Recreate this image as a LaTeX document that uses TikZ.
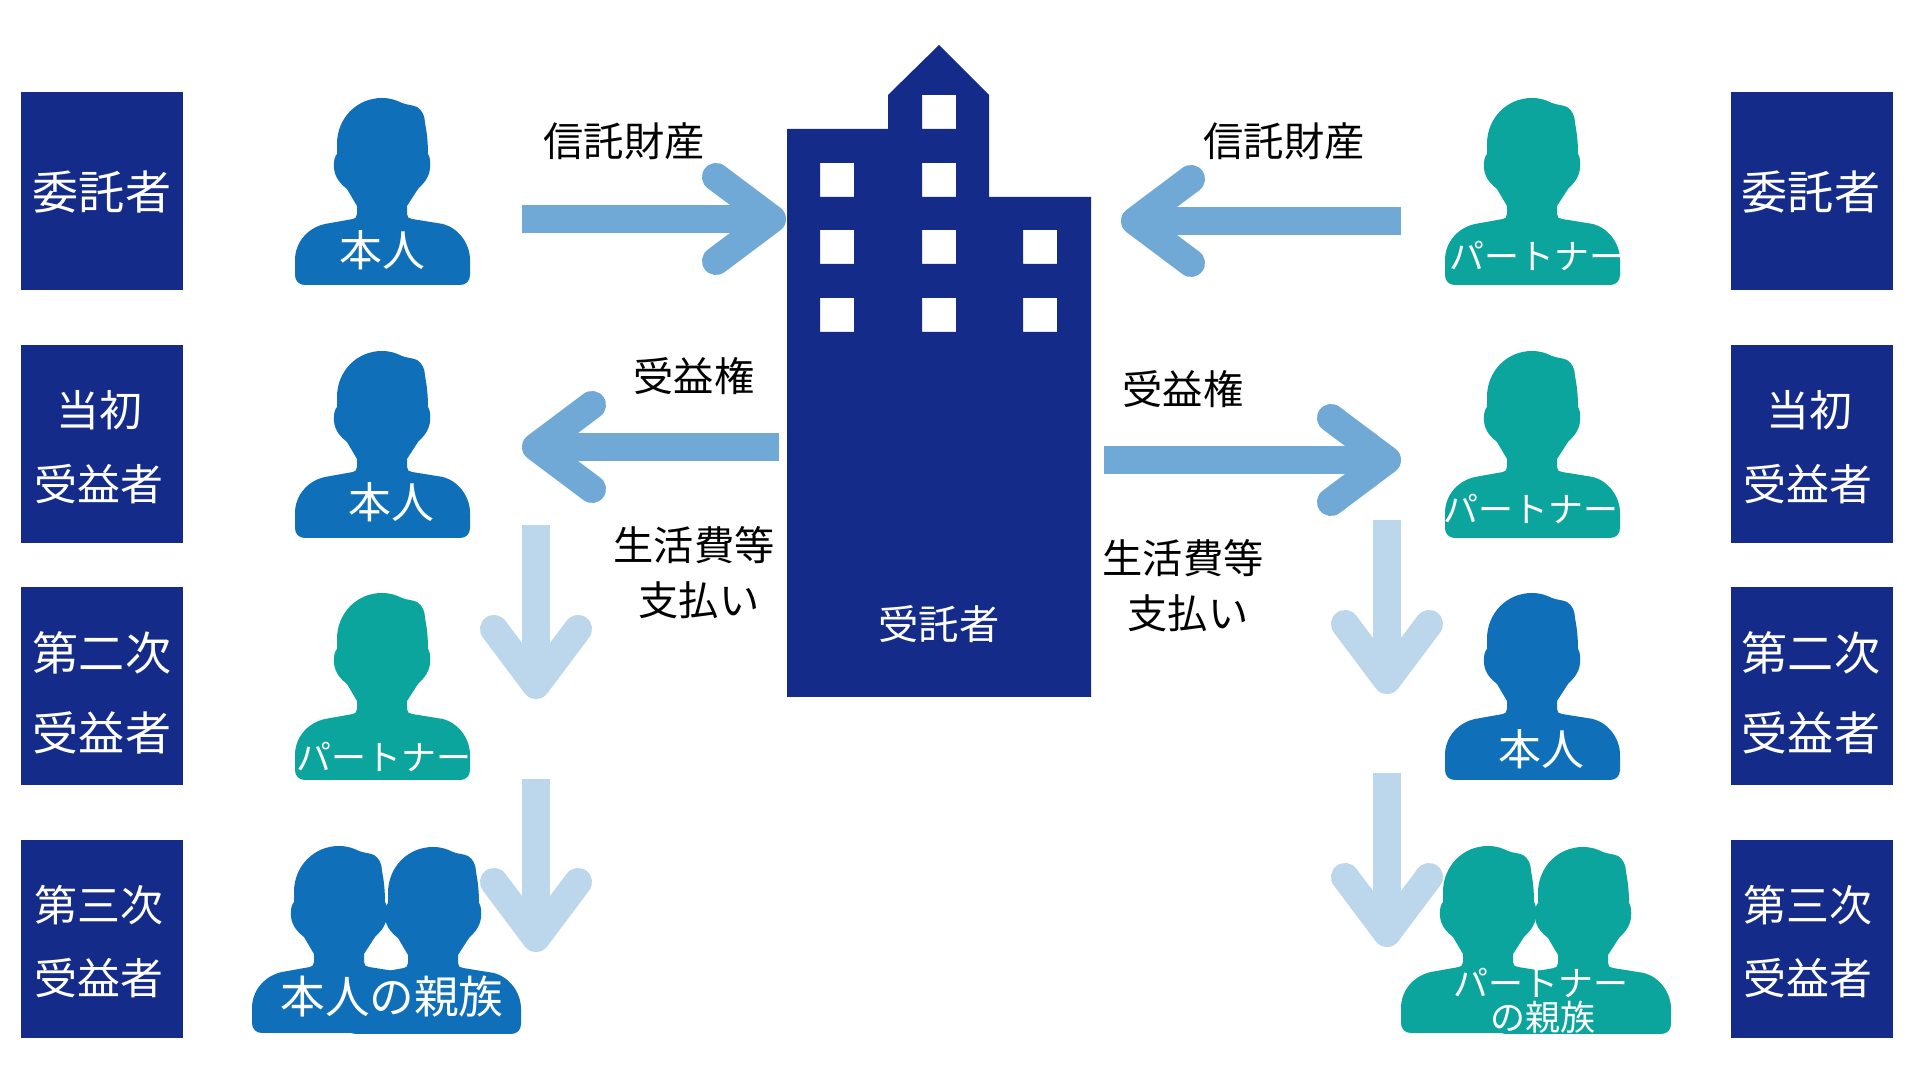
\documentclass[tikz,border=0pt]{standalone}
\usepackage{fontspec}
\newfontfamily\cjk{Noto Sans CJK JP}
\usetikzlibrary{calc}
\definecolor{navy}{HTML}{142B8A}
\definecolor{selfblue}{HTML}{0F70B9}
\definecolor{partnerteal}{HTML}{0CA59E}
\definecolor{armblue}{HTML}{70A8D6}
\definecolor{armlight}{HTML}{BCD6EC}
\newcommand{\pxfont}[1]{\cjk\fontsize{#1}{#1}\selectfont}
\tikzset{
  x=0.01cm,y=-0.01cm,
  boxshape/.style={fill=navy,draw=none,inner sep=0pt,anchor=north west},
  txtw/.style={text=white,inner sep=0pt,anchor=center},
  txtk/.style={text=black,inner sep=0pt,anchor=center},
  fa/.style={font=\pxfont{13.1pt}},
  fb/.style={font=\pxfont{12.2pt}},
  fc/.style={font=\pxfont{11.45pt}},
  fd/.style={font=\pxfont{9.95pt}},
  fe/.style={font=\pxfont{12.7pt}},
  armshaft/.style={line width=0.28cm,line cap=butt},
  armhead/.style={line width=0.28cm,line cap=round,line join=round},
  person/.pic={
    \fill[pic actions]
      (87,0) .. controls (95,0) and (101,2) .. (107,5)
      .. controls (112,7) and (118,7) .. (122,9)
      .. controls (127,12) and (130,18) .. (130,25)
      .. controls (132,35) and (133,45) .. (133,56)
      .. controls (136,60) and (136,72) .. (133,78)
      .. controls (131,83) and (127,87) .. (123,91)
      -- (112,108) -- (112,116)
      .. controls (112,119) and (114,121) .. (117,121)
      -- (148,126)
      .. controls (163,130) and (175,145) .. (175,162)
      -- (175,177)
      .. controls (175,183) and (171,187) .. (165,187)
      -- (10,187)
      .. controls (4,187) and (0,183) .. (0,177)
      -- (0,162)
      .. controls (0,145) and (12,130) .. (30,126)
      -- (58,121)
      .. controls (60,121) and (62,119) .. (62,116)
      -- (62,108) -- (52,91)
      .. controls (47,87) and (43,83) .. (41,78)
      .. controls (38,72) and (38,60) .. (42,56)
      -- (42,46)
      .. controls (42,20) and (62,0) .. (87,0) -- cycle;
  }
}
% \fatarrow{style colour}{start}{tip}{dx1}{dy1}{dx2}{dy2}
\newcommand{\fatarrow}[7]{%
  \draw[armshaft,draw=#1] (#2) -- (#3);
  \draw[armhead,draw=#1] ($(#3)+(#4,#5)$) -- (#3) -- ($(#3)+(#6,#7)$);
}
\begin{document}
\begin{tikzpicture}
\useasboundingbox[fill=white] (0,0) rectangle (1920,1080);

% role boxes
\foreach \nm/\bx in {L/20,R/1730}{
  \node[boxshape,minimum width=1.62cm,minimum height=1.98cm] (box\nm1) at (\bx,91) {};
  \node[boxshape,minimum width=1.62cm,minimum height=1.98cm] (box\nm2) at (\bx,344) {};
  \node[boxshape,minimum width=1.62cm,minimum height=1.98cm] (box\nm3) at (\bx,586) {};
  \node[boxshape,minimum width=1.62cm,minimum height=1.98cm] (box\nm4) at (\bx,839) {};
}
\node[txtw,fa] (tL1) at (102,192) {委託者};
\node[txtw,fb] (tL2a) at (99,410) {当初};
\node[txtw,fb] (tL2b) at (99,484) {受益者};
\node[txtw,fa] (tL3a) at (102,653) {第二次};
\node[txtw,fa] (tL3b) at (102,733) {受益者};
\node[txtw,fb] (tL4a) at (99,905) {第三次};
\node[txtw,fb] (tL4b) at (99,978) {受益者};
\node[txtw,fa] (tR1) at (1811,192) {委託者};
\node[txtw,fb] (tR2a) at (1809,410) {当初};
\node[txtw,fb] (tR2b) at (1808,484) {受益者};
\node[txtw,fa] (tR3a) at (1811,653) {第二次};
\node[txtw,fa] (tR3b) at (1811,733) {受益者};
\node[txtw,fb] (tR4a) at (1808,905) {第三次};
\node[txtw,fb] (tR4b) at (1808,978) {受益者};

% arrow end points
\coordinate (a1s) at (522,219);  \coordinate (a1t) at (772,219);
\coordinate (a2s) at (1401,221); \coordinate (a2t) at (1135,221);
\coordinate (a3s) at (779,447);  \coordinate (a3t) at (536,447);
\coordinate (a4s) at (1104,460); \coordinate (a4t) at (1387,460);
\coordinate (a5s) at (536,525);  \coordinate (a5t) at (536,685);
\coordinate (a6s) at (536,779);  \coordinate (a6t) at (536,938);
\coordinate (a7s) at (1387,520); \coordinate (a7t) at (1387,680);
\coordinate (a8s) at (1387,773); \coordinate (a8t) at (1387,933);

\fatarrow{armblue}{a1s}{a1t}{-56}{-42}{-56}{42}
\fatarrow{armblue}{a2s}{a2t}{56}{-42}{56}{42}
\fatarrow{armblue}{a3s}{a3t}{56}{-42}{56}{42}
\fatarrow{armblue}{a4s}{a4t}{-56}{-42}{-56}{42}
\fatarrow{armlight}{a5s}{a5t}{-42}{-56}{42}{-56}
\fatarrow{armlight}{a6s}{a6t}{-42}{-56}{42}{-56}
\fatarrow{armlight}{a7s}{a7t}{-42}{-56}{42}{-56}
\fatarrow{armlight}{a8s}{a8t}{-42}{-56}{42}{-56}

% building
\fill[navy,even odd rule]
  (787,129) -- (888,129) -- (888,95) -- (939,45) -- (989,95) -- (989,197)
  -- (1091,197) -- (1091,697) -- (787,697) -- cycle
  (922,95) rectangle (956,129)
  (820,163) rectangle (854,197) (922,163) rectangle (956,197)
  (820,230) rectangle (854,264) (922,230) rectangle (956,264) (1023,230) rectangle (1057,264)
  (820,298) rectangle (854,332) (922,298) rectangle (956,332) (1023,298) rectangle (1057,332);
\node[txtw,fc] (trustee) at (939,624) {受託者};

% people
\pic[fill=selfblue] at (295,98) {person};
\pic[fill=selfblue] at (295,351) {person};
\pic[fill=partnerteal] at (295,593) {person};
\pic[fill=selfblue] at (346,847) {person};
\pic[fill=selfblue] at (252,846) {person};
\pic[fill=partnerteal] at (1445,98) {person};
\pic[fill=partnerteal] at (1445,351) {person};
\pic[fill=selfblue] at (1445,593) {person};
\pic[fill=partnerteal] at (1496,847) {person};
\pic[fill=partnerteal] at (1401,846) {person};

\node[txtw,fb] (pL1) at (382,250) {本人};
\node[txtw,fb] (pL2) at (391,502) {本人};
\node[txtw,fd] (pL3) at (384,757) {パートナー};
\node[txtw,fe] (pL4) at (392,997) {本人の親族};
\node[txtw,fd] (pR1) at (1537,256) {パートナー};
\node[txtw,fd] (pR2) at (1531,509) {パートナー};
\node[txtw,fb] (pR3) at (1541,749) {本人};
\node[txtw,fd] (pR4a) at (1541,983) {パートナー};
\node[txtw,fd] (pR4b) at (1543,1017) {の親族};

% arrow captions
\node[txtk,fc] (c1) at (624,141) {信託財産};
\node[txtk,fc] (c2) at (1284,141) {信託財産};
\node[txtk,fc] (c3) at (694,376) {受益権};
\node[txtk,fc] (c4) at (1183,389) {受益権};
\node[txtk,fc] (c5a) at (694,545) {生活費等};
\node[txtk,fc] (c5b) at (699,600) {支払い};
\node[txtk,fc] (c6a) at (1183,558) {生活費等};
\node[txtk,fc] (c6b) at (1188,613) {支払い};
\end{tikzpicture}
\end{document}
